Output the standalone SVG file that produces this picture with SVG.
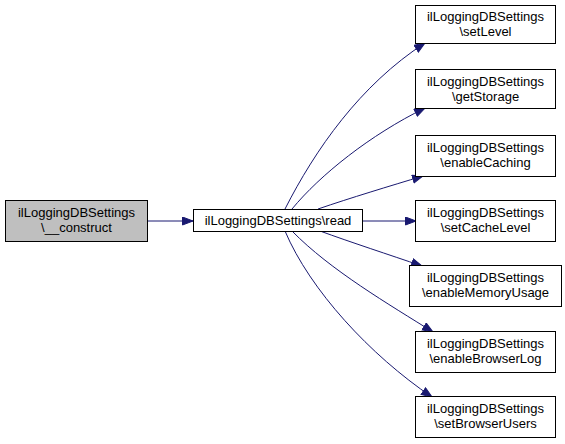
<svg xmlns="http://www.w3.org/2000/svg" width="565" height="444" viewBox="0 0 565 444">
<defs>
<style>
.box{fill:#ffffff;stroke:#000000;stroke-width:1}
.cur{fill:#bfbfbf;stroke:#000000;stroke-width:1}
.t{font-family:"Liberation Sans",Arial,sans-serif;font-size:13px;fill:#000000;text-anchor:middle}
.e{fill:none;stroke:#191970;stroke-width:1;marker-end:url(#ah)}
</style>
<marker id="ah" markerUnits="userSpaceOnUse" markerWidth="13" markerHeight="10" refX="11" refY="4.5" orient="auto">
<path d="M0.5,0.5 L11,4.5 L0.5,8.5 z" fill="#191970" stroke="#191970" stroke-width="1"/>
</marker>
</defs>
<rect width="565" height="444" fill="#ffffff"/>
<g id="connectors">
<path class="e" d="M147.5,221 L193,221"/>
<path class="e" d="M285,209 C315,150 360,85 425,43"/>
<path class="e" d="M292,209 C320,175 370,135 425,108"/>
<path class="e" d="M318,209 C350,198 390,186 423,176"/>
<path class="e" d="M362.5,221 L416,221"/>
<path class="e" d="M320,231 C350,242 390,255 422,266"/>
<path class="e" d="M292,231 C330,270 390,305 433,332"/>
<path class="e" d="M285,231 C310,290 370,355 432,397"/>
</g>
<g id="node-construct">
<rect class="cur" x="5.5" y="200.5" width="142" height="41"/>
<text class="t" x="76.5" y="217">ilLoggingDBSettings</text>
<text class="t" x="76.5" y="232">\__construct</text>
</g>
<g id="node-read">
<rect class="box" x="193.5" y="209.5" width="169" height="22"/>
<text class="t" x="278" y="225">ilLoggingDBSettings\read</text>
</g>
<g id="node-setLevel">
<rect class="box" x="415.5" y="5.5" width="140" height="38"/>
<text class="t" x="485.5" y="21">ilLoggingDBSettings</text>
<text class="t" x="485.5" y="36">\setLevel</text>
</g>
<g id="node-getStorage">
<rect class="box" x="415.5" y="69.5" width="140" height="39"/>
<text class="t" x="485.5" y="86">ilLoggingDBSettings</text>
<text class="t" x="485.5" y="101">\getStorage</text>
</g>
<g id="node-enableCaching">
<rect class="box" x="415.5" y="135.5" width="140" height="41"/>
<text class="t" x="485.5" y="152">ilLoggingDBSettings</text>
<text class="t" x="485.5" y="167">\enableCaching</text>
</g>
<g id="node-setCacheLevel">
<rect class="box" x="415.5" y="200.5" width="140" height="41"/>
<text class="t" x="485.5" y="217">ilLoggingDBSettings</text>
<text class="t" x="485.5" y="232">\setCacheLevel</text>
</g>
<g id="node-enableMemoryUsage">
<rect class="box" x="409.5" y="265.5" width="152" height="41"/>
<text class="t" x="485.5" y="282">ilLoggingDBSettings</text>
<text class="t" x="485.5" y="297">\enableMemoryUsage</text>
</g>
<g id="node-enableBrowserLog">
<rect class="box" x="415.5" y="331.5" width="140" height="41"/>
<text class="t" x="485.5" y="348">ilLoggingDBSettings</text>
<text class="t" x="485.5" y="363">\enableBrowserLog</text>
</g>
<g id="node-setBrowserUsers">
<rect class="box" x="415.5" y="396.5" width="140" height="41"/>
<text class="t" x="485.5" y="413">ilLoggingDBSettings</text>
<text class="t" x="485.5" y="428">\setBrowserUsers</text>
</g>
</svg>
